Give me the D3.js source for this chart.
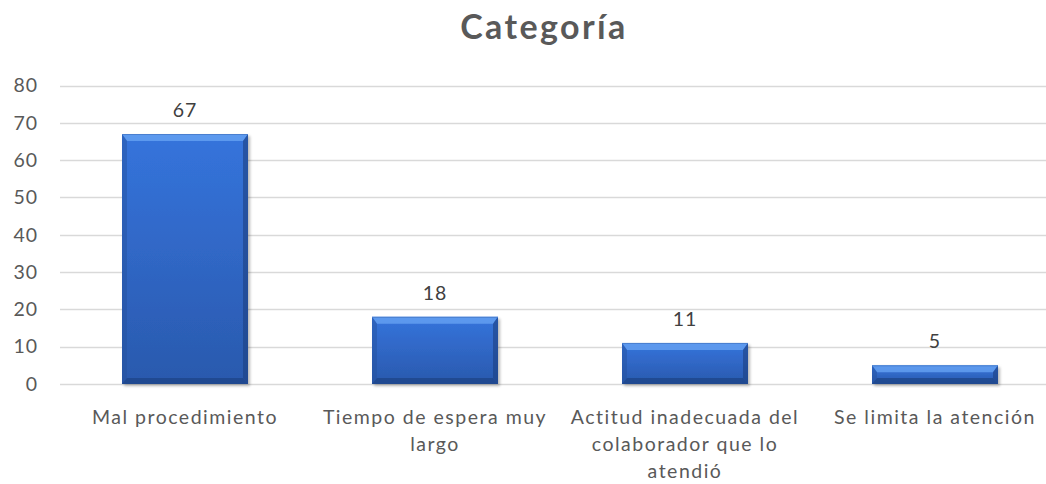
<!DOCTYPE html>
<html>
<head>
<meta charset="utf-8">
<script src="https://cdn.jsdelivr.net/npm/d3@7"></script>
<style>
  html, body { margin: 0; padding: 0; background: #fff; }
  svg { display: block; font-family: Lato, "Open Sans", sans-serif; }
</style>
</head>
<body>
<svg id="chart" width="1046" height="484"></svg>
<script>
// Complaint categories and their counts
const categories = [
  "Mal procedimiento",
  "Tiempo de espera muy largo",
  "Actitud inadecuada del colaborador que lo atendió",
  "Se limita la atención"
];
const counts = [67, 18, 11, 5];
const yTicks = [0, 10, 20, 30, 40, 50, 60, 70, 80];
const chartTitle = "Categoría";

const svg = d3.select("#chart");
const W = 1046, H = 484;
const plot = { left: 60, right: 1060, top: 85.5, bottom: 384 };

const x = d3.scaleBand()
  .domain(categories)
  .range([plot.left, plot.right])
  .paddingInner(0.496)
  .paddingOuter(0.248);

const y = d3.scaleLinear()
  .domain([0, 80])
  .range([plot.bottom, plot.top]);

const defs = svg.append("defs");

// Bar body gradient
const body = defs.append("linearGradient")
  .attr("id", "barBody").attr("x1", 0).attr("y1", 0).attr("x2", 0).attr("y2", 1);
body.append("stop").attr("offset", "0%").attr("stop-color", "#3574dc");
body.append("stop").attr("offset", "100%").attr("stop-color", "#2a59ad");

// Soft shadow behind bars
const shadow = defs.append("filter").attr("id", "barShadow")
  .attr("x", "-10%").attr("y", "-10%").attr("width", "130%").attr("height", "130%");
shadow.append("feGaussianBlur").attr("in", "SourceAlpha").attr("stdDeviation", 1.6).attr("result", "b");
shadow.append("feOffset").attr("in", "b").attr("dx", 2).attr("dy", 1.5).attr("result", "o");
shadow.append("feComponentTransfer").attr("in", "o").attr("result", "s")
  .append("feFuncA").attr("type", "linear").attr("slope", 0.28);
const merge = shadow.append("feMerge");
merge.append("feMergeNode").attr("in", "s");
merge.append("feMergeNode").attr("in", "SourceGraphic");

// Title
svg.append("text")
  .attr("x", 544).attr("y", 39)
  .attr("text-anchor", "middle")
  .attr("font-size", 34)
  .attr("font-weight", 700)
  .attr("letter-spacing", 2.4)
  .attr("fill", "#595959")
  .text(chartTitle);

// Gridlines
svg.append("g")
  .selectAll("line")
  .data(yTicks)
  .join("line")
  .attr("x1", plot.left).attr("x2", W)
  .attr("y1", d => Math.round(y(d)) + 0.5)
  .attr("y2", d => Math.round(y(d)) + 0.5)
  .attr("stroke", "#d9d9d9")
  .attr("stroke-width", 1.3);

// Y axis labels
const yAxis = d3.axisLeft(y).tickValues(yTicks).tickSize(0).tickPadding(0);
const yg = svg.append("g")
  .attr("transform", `translate(38,0)`)
  .call(yAxis);
yg.select(".domain").remove();
yg.selectAll("text")
  .attr("font-family", "Lato, 'Open Sans', sans-serif")
  .attr("font-size", 19.5)
  .attr("letter-spacing", 1)
  .attr("fill", "#595959");

// Bars with bevel edges
const bw = x.bandwidth();
const bevelTop = 7, bevelSide = 5, bevelBottom = 6;
const bars = svg.append("g").selectAll("g.bar")
  .data(categories.map((c, i) => ({ c, v: counts[i] })))
  .join("g").attr("class", "bar");

bars.append("rect")
  .attr("x", d => x(d.c)).attr("y", d => y(d.v))
  .attr("width", bw).attr("height", d => y(0) - y(d.v))
  .attr("fill", "url(#barBody)")
  .attr("filter", "url(#barShadow)");

function bevel(d) {
  const x0 = x(d.c), x1 = x0 + bw, y0 = y(d.v), y1 = y(0);
  const h = y1 - y0;
  const bt = Math.min(bevelTop, h / 2), bb = Math.min(bevelBottom, h / 2);
  return { x0, x1, y0, y1, bt, bb };
}
// top facet
bars.append("polygon")
  .attr("points", d => { const b = bevel(d);
    return [[b.x0, b.y0], [b.x1, b.y0], [b.x1 - bevelSide, b.y0 + b.bt], [b.x0 + bevelSide, b.y0 + b.bt]].join(" "); })
  .attr("fill", "#6aa6f4").attr("opacity", 0.75);
// left facet
bars.append("polygon")
  .attr("points", d => { const b = bevel(d);
    return [[b.x0, b.y0], [b.x0 + bevelSide, b.y0 + b.bt], [b.x0 + bevelSide, b.y1 - b.bb], [b.x0, b.y1]].join(" "); })
  .attr("fill", "#244f9c").attr("opacity", 0.45);
// right facet
bars.append("polygon")
  .attr("points", d => { const b = bevel(d);
    return [[b.x1, b.y0], [b.x1 - bevelSide, b.y0 + b.bt], [b.x1 - bevelSide, b.y1 - b.bb], [b.x1, b.y1]].join(" "); })
  .attr("fill", "#1c3f80").attr("opacity", 0.6);
// bottom facet
bars.append("polygon")
  .attr("points", d => { const b = bevel(d);
    return [[b.x0, b.y1], [b.x1, b.y1], [b.x1 - bevelSide, b.y1 - b.bb], [b.x0 + bevelSide, b.y1 - b.bb]].join(" "); })
  .attr("fill", "#1d4487").attr("opacity", 0.75);
// thin top edge
bars.append("line")
  .attr("x1", d => x(d.c)).attr("x2", d => x(d.c) + bw)
  .attr("y1", d => y(d.v) + 0.5).attr("y2", d => y(d.v) + 0.5)
  .attr("stroke", "#4a7fcf").attr("stroke-width", 1);

// Value labels
svg.append("g").selectAll("text")
  .data(categories.map((c, i) => ({ c, v: counts[i] })))
  .join("text")
  .attr("x", d => x(d.c) + bw / 2)
  .attr("y", d => y(d.v) - 17)
  .attr("text-anchor", "middle")
  .attr("font-size", 19.5)
  .attr("letter-spacing", 1)
  .attr("fill", "#404040")
  .text(d => d.v);

// Category labels, wrapped
const wrapWidth = 240;
const catG = svg.append("g");
categories.forEach(c => {
  const cx = x(c) + bw / 2;
  const t = catG.append("text")
    .attr("x", cx)
    .attr("y", 424)
    .attr("text-anchor", "middle")
    .attr("font-size", 19.5)
    .attr("letter-spacing", 1.5)
    .attr("fill", "#595959");
  const words = c.split(" ");
  let line = [];
  let ts = t.append("tspan").attr("x", cx).attr("dy", 0);
  words.forEach(w => {
    line.push(w);
    ts.text(line.join(" "));
    if (ts.node().getComputedTextLength() > wrapWidth && line.length > 1) {
      line.pop();
      ts.text(line.join(" "));
      line = [w];
      ts = t.append("tspan").attr("x", cx).attr("dy", 27).text(w);
    }
  });
});
</script>
</body>
</html>
